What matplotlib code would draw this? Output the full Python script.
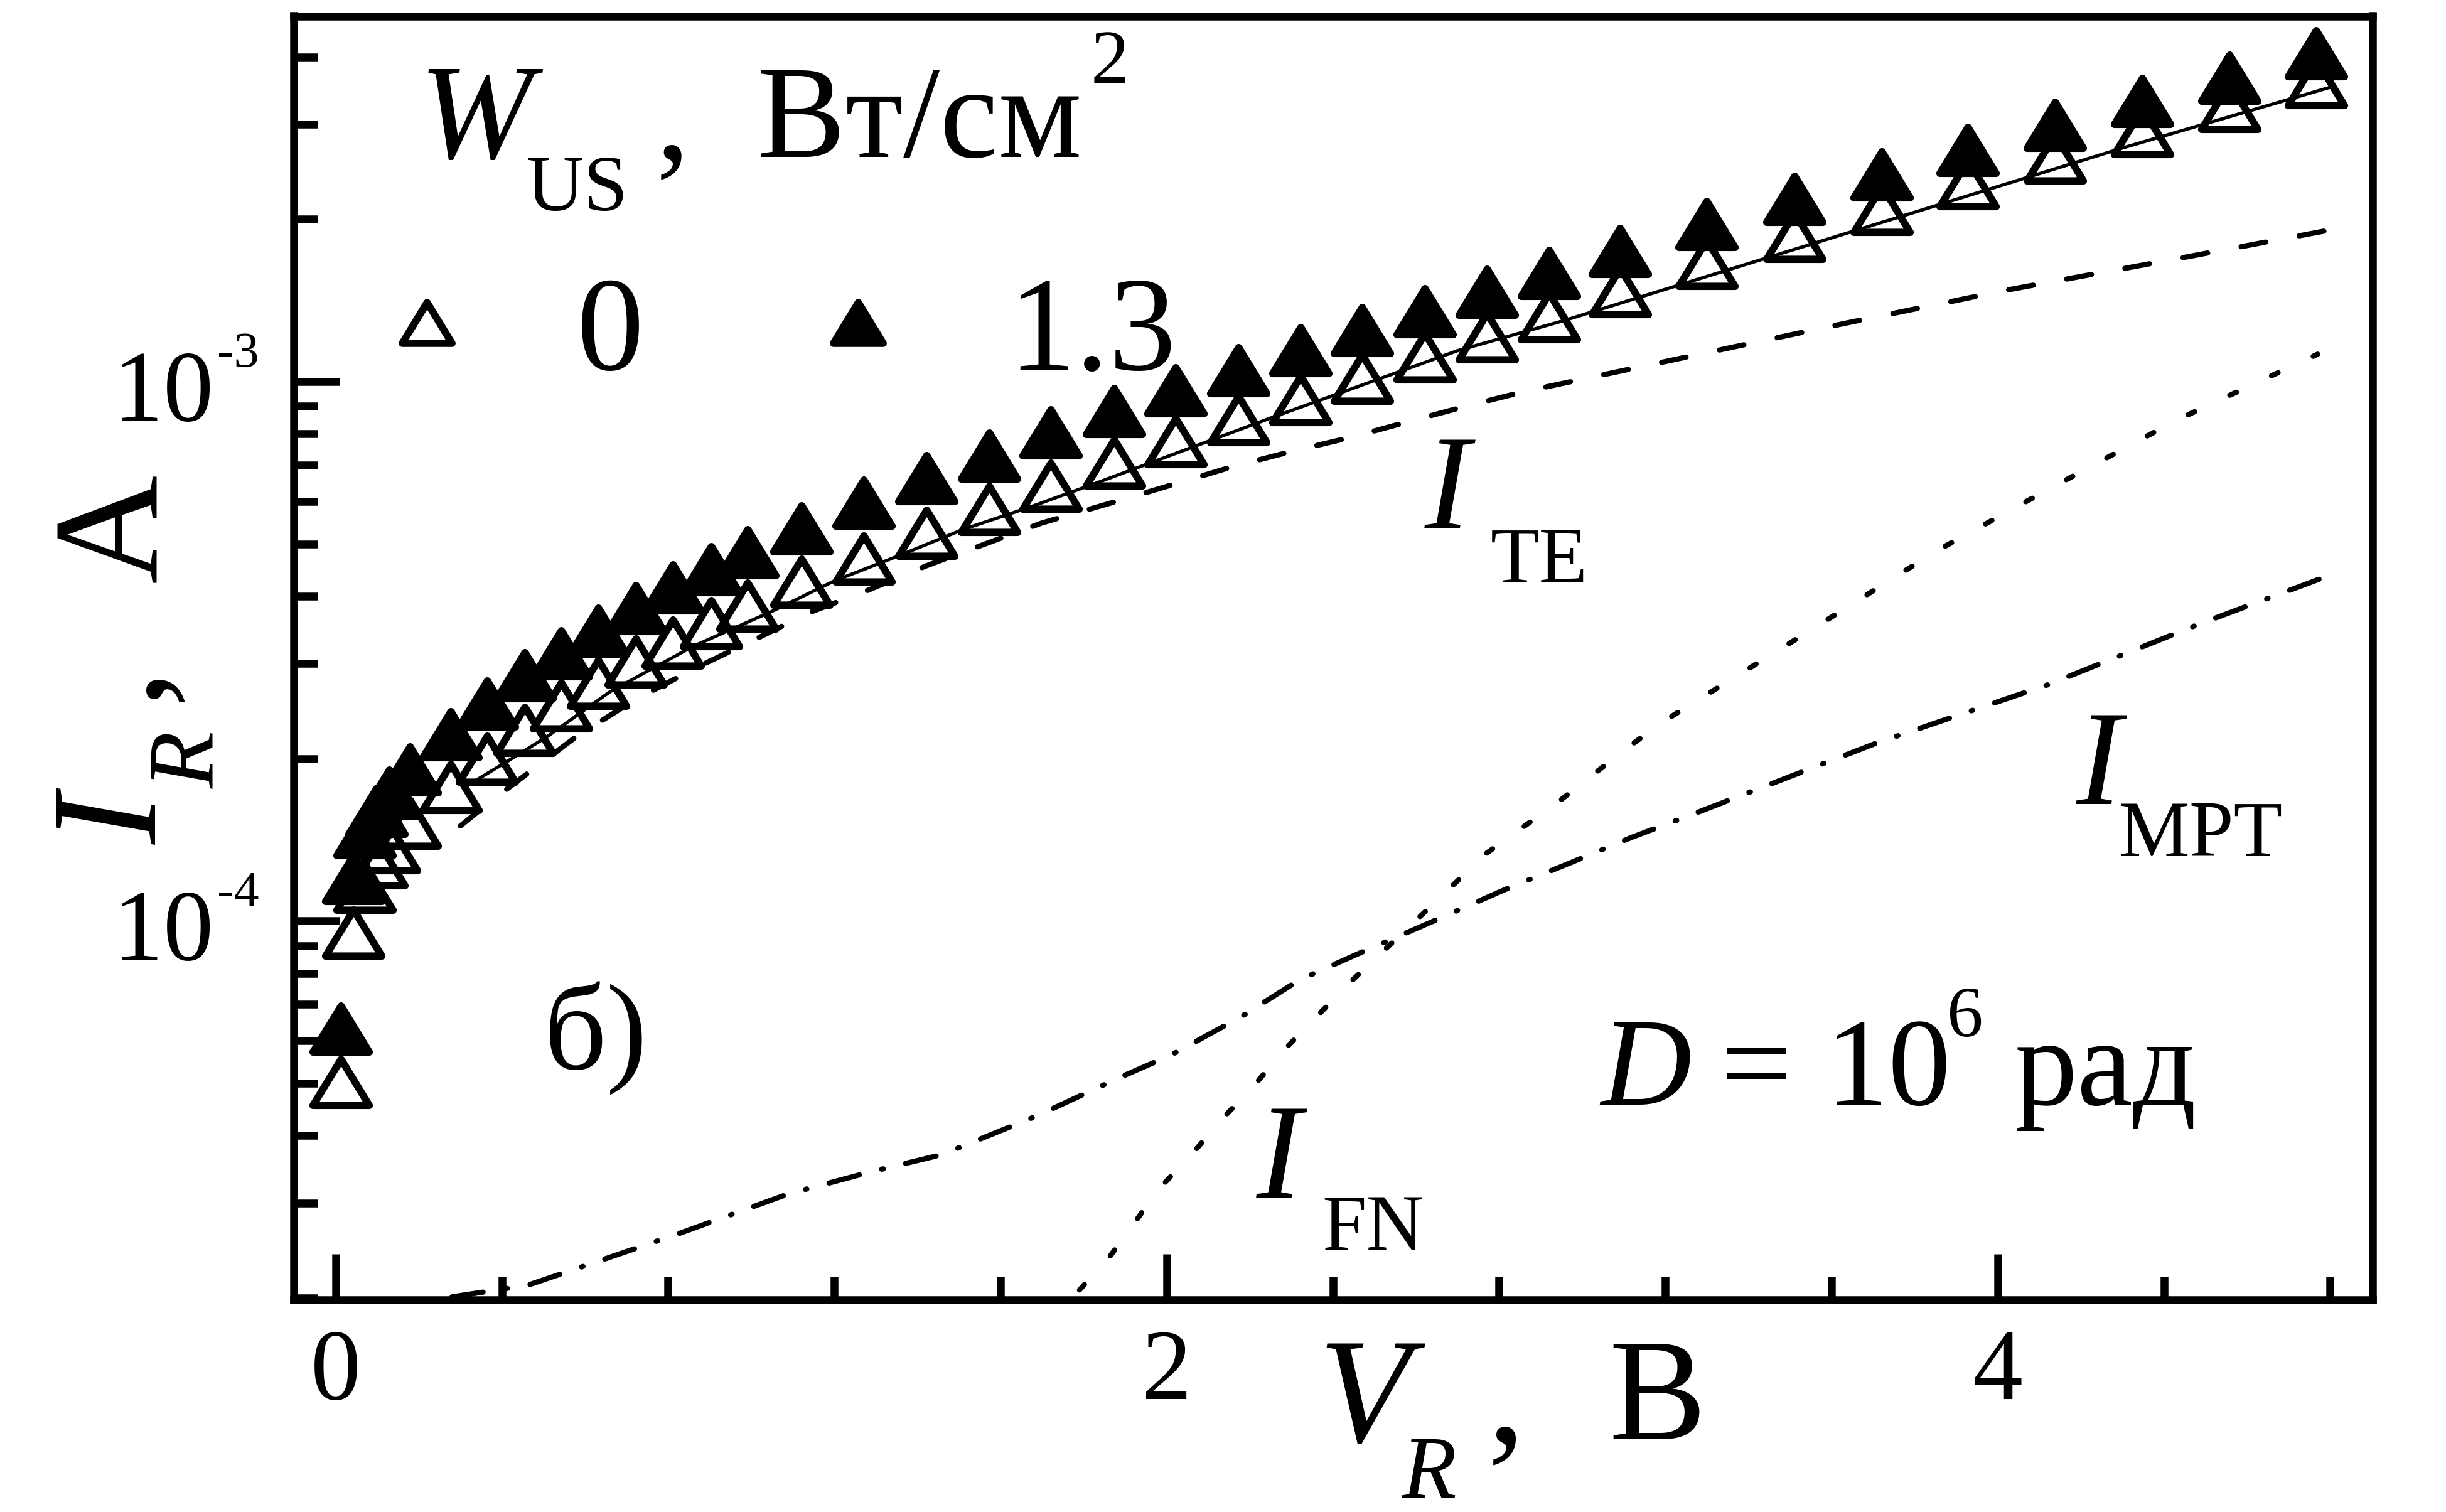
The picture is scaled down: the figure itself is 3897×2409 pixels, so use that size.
import matplotlib
matplotlib.use('Agg')
import matplotlib.pyplot as plt
from matplotlib.markers import MarkerStyle
from matplotlib.lines import Line2D
from matplotlib.path import Path
from matplotlib import transforms
from matplotlib.ticker import FixedLocator, NullFormatter, LogLocator

# ---------------- data ----------------
V_R = [0.013, 0.042, 0.070, 0.099, 0.128, 0.179, 0.276, 0.364, 0.455, 0.542, 0.632,
       0.722, 0.812, 0.903, 0.991, 1.121, 1.271, 1.421, 1.572, 1.721,
       1.873, 2.022, 2.172, 2.322, 2.470, 2.621, 2.770, 2.920,
       3.091, 3.299, 3.511, 3.721, 3.927, 4.137, 4.347, 4.557, 4.766]
I_W0 = [5.03e-5, 9.51e-5, 1.156e-4, 1.285e-4, 1.37e-4, 1.52e-4, 1.77e-4, 2.00e-4, 2.26e-4, 2.51e-4, 2.76e-4,
        3.03e-4, 3.28e-4, 3.56e-4, 3.84e-4, 4.25e-4, 4.70e-4, 5.24e-4, 5.81e-4, 6.40e-4,
        7.07e-4, 7.75e-4, 8.51e-4, 9.28e-4, 1.015e-3, 1.112e-3, 1.211e-3, 1.322e-3,
        1.47e-3, 1.66e-3, 1.86e-3, 2.09e-3, 2.33e-3, 2.60e-3, 2.91e-3, 3.24e-3, 3.59e-3]
I_W13 = [6.31e-5, 1.20e-4, 1.46e-4, 1.60e-4, 1.73e-4, 1.91e-4, 2.22e-4, 2.53e-4, 2.85e-4, 3.13e-4, 3.45e-4,
         3.80e-4, 4.15e-4, 4.49e-4, 4.82e-4, 5.34e-4, 5.96e-4, 6.61e-4, 7.29e-4, 8.05e-4,
         8.81e-4, 9.62e-4, 1.049e-3, 1.143e-3, 1.245e-3, 1.35e-3, 1.466e-3, 1.59e-3,
         1.745e-3, 1.96e-3, 2.18e-3, 2.42e-3, 2.69e-3, 2.99e-3, 3.31e-3, 3.66e-3, 4.06e-3]

FIT_V = [0.31, 0.41, 0.51, 0.66, 0.86, 1.05, 1.20, 1.36, 1.51, 1.67, 1.82, 2.25, 2.70, 2.96, 3.46, 4.30, 4.81]
FIT_I = [1.77e-4, 1.97e-4, 2.20e-4, 2.66e-4, 3.23e-4, 3.75e-4, 4.27e-4, 4.77e-4, 5.32e-4, 5.85e-4,
         6.44e-4, 8.56e-4, 1.141e-3, 1.30e-3, 1.71e-3, 2.71e-3, 3.53e-3]

TE_V = [0.30, 0.37, 0.58, 0.72, 0.88, 1.00, 1.14, 1.28, 1.42, 1.56, 1.70, 1.88, 2.02, 2.16,
        2.30, 2.44, 2.58, 2.72, 2.86, 3.17, 3.60, 4.02, 4.44, 4.80]
TE_I = [1.50e-4, 1.66e-4, 2.20e-4, 2.57e-4, 2.98e-4, 3.30e-4, 3.73e-4, 4.10e-4, 4.55e-4, 4.99e-4,
        5.47e-4, 6.00e-4, 6.46e-4, 6.96e-4, 7.42e-4, 7.87e-4, 8.42e-4, 9.00e-4, 9.58e-4,
        1.077e-3, 1.267e-3, 1.477e-3, 1.694e-3, 1.91e-3]

FN_V = [1.79, 1.86, 1.92, 1.98, 2.06, 2.13, 2.21, 2.28, 2.44, 2.61, 2.77, 2.94, 3.10, 3.19,
        3.56, 3.85, 4.10, 4.43, 4.77]
FN_I = [2.07e-5, 2.37e-5, 2.74e-5, 3.18e-5, 3.69e-5, 4.27e-5, 4.95e-5, 5.74e-5, 7.68e-5, 1.02e-4,
        1.336e-4, 1.657e-4, 2.07e-4, 2.33e-4, 3.50e-4, 4.84e-4, 6.18e-4, 8.48e-4, 1.124e-3]

MPT_V = [0.28, 0.46, 0.56, 0.83, 1.09, 1.29, 1.46, 1.69, 1.89, 2.01, 2.18, 2.32, 2.46, 2.64,
         2.81, 2.98, 3.12, 3.25, 3.71, 4.12, 4.48, 4.78]
MPT_I = [2.01e-5, 2.11e-5, 2.24e-5, 2.64e-5, 3.12e-5, 3.43e-5, 3.69e-5, 4.36e-5, 5.14e-5, 5.64e-5,
         6.65e-5, 7.78e-5, 8.69e-5, 9.98e-5, 1.14e-4, 1.29e-4, 1.43e-4, 1.56e-4, 2.14e-4, 2.74e-4,
         3.54e-4, 4.32e-4]

LEGEND_LABELS = ['0', '1.3']
X_MAJOR = [0, 2, 4]
X_MINOR = [0.4, 0.8, 1.2, 1.6, 2.4, 2.8, 3.2, 3.6, 4.4, 4.8]
Y_MAJOR = [1e-4, 1e-3]
Y_MAJOR_EXP = ['-4', '-3']

# ---------------- figure ----------------
W, H, DPI = 3897, 2409, 300
PX = 72.0 / DPI
FONT = 'Liberation Serif'
plt.rcParams['font.family'] = [FONT, 'DejaVu Serif']

fig = plt.figure(figsize=(W / DPI, H / DPI), dpi=DPI)
L, R, T, B = 468, 3780, 25.5, 2071
ax = fig.add_axes([L / W, 1 - B / H, (R - L) / W, (B - T) / H])

tri_path = Path([(-1, -0.82), (1, -0.82), (0, 0.82), (-1, -0.82)],
                [Path.MOVETO, Path.LINETO, Path.LINETO, Path.CLOSEPOLY])
tri = MarkerStyle(tri_path, joinstyle='round')

ax.plot(V_R, I_W13, linestyle='none', marker=tri, markersize=21.5, markerfacecolor='black',
        markeredgecolor='black', markeredgewidth=2.8, zorder=3)
ax.plot(V_R, I_W0, linestyle='none', marker=tri, markersize=21.5, markerfacecolor='none',
        markeredgecolor='black', markeredgewidth=2.8, zorder=4)

ax.plot(FIT_V, FIT_I, color='black', lw=1.25, zorder=5)
ax.plot(TE_V, TE_I, color='black', lw=2.0, linestyle=(0, (4.8, 6.5)), dash_capstyle='round', zorder=5)
ax.plot(FN_V, FN_I, color='black', lw=2.0, linestyle=(0, (1.4, 7.4)), dash_capstyle='round', zorder=5)
ax.plot(MPT_V, MPT_I, color='black', lw=2.0, linestyle=(0, (6.0, 4.4, 0.3, 4.4)),
        dash_capstyle='round', zorder=5)

ax.set_yscale('log')
ax.set_xlim(-0.101, 4.902)
ax.set_ylim(10 ** -4.7024, 10 ** -2.3223)

for sp in ax.spines.values():
    sp.set_linewidth(3.0)

ax.xaxis.set_major_locator(FixedLocator(X_MAJOR))
ax.xaxis.set_minor_locator(FixedLocator(X_MINOR))
ax.set_xticklabels([str(v) for v in X_MAJOR], fontsize=38.4, family=FONT)
ax.yaxis.set_major_locator(FixedLocator(Y_MAJOR))
ax.yaxis.set_minor_locator(LogLocator(base=10, subs=[2, 3, 4, 5, 6, 7, 8, 9], numticks=20))
ax.yaxis.set_major_formatter(NullFormatter())
ax.yaxis.set_minor_formatter(NullFormatter())
ax.tick_params(which='both', direction='in', top=False, right=False, width=3.0)
ax.tick_params(which='major', length=17.5)
ax.tick_params(which='minor', length=9)
ax.tick_params(axis='x', which='major', pad=11)

# y tick labels (10 with superscript exponent)
t_base = transforms.offset_copy(ax.get_yaxis_transform(), fig=fig, x=-128, y=-62, units='dots')
t_exp = transforms.offset_copy(ax.get_yaxis_transform(), fig=fig, x=-122, y=23, units='dots')
for yv, ex in zip(Y_MAJOR, Y_MAJOR_EXP):
    ax.text(0, yv, '10', transform=t_base, ha='right', va='baseline', fontsize=38.4, family=FONT)
    ax.text(0, yv, ex, transform=t_exp, ha='left', va='baseline', fontsize=19.2, family=FONT)


def ftext(x, y, s, size_px, italic=False, rot=0):
    fig.text(x / W, 1 - y / H, s, fontsize=size_px * PX, family=FONT,
             style='italic' if italic else 'normal', rotation=rot,
             rotation_mode='anchor', ha='left', va='baseline')


BIG, SUB = 217, 127
# legend title
ftext(668, 252, 'W', BIG, italic=True)
ftext(838, 335, 'US', SUB)
ftext(1045, 252, ',', BIG)
ftext(1207, 250, 'Вт/см', 210)
ftext(1738, 132, '2', 123)

# legend entries
fs_leg = 214 * PX
h_open = Line2D([], [], linestyle='none', marker=tri, markersize=19, markerfacecolor='none',
                markeredgecolor='black', markeredgewidth=2.8)
h_fill = Line2D([], [], linestyle='none', marker=tri, markersize=19, markerfacecolor='black',
                markeredgecolor='black', markeredgewidth=2.8)
leg = ax.legend([h_open, h_fill], LEGEND_LABELS, ncol=2, frameon=False, loc='upper left',
                bbox_to_anchor=(573 / W, 1 - 439 / H), bbox_transform=fig.transFigure,
                borderpad=0, borderaxespad=0, handlelength=1.0, handletextpad=0.618,
                columnspacing=1.092, prop={'family': FONT, 'size': fs_leg}, numpoints=1)

# panel label and curve labels
ftext(867, 1703, 'б)', 196)
ftext(2270, 842, 'I', BIG, italic=True)
ftext(2375, 928, 'TE', SUB)
ftext(3308, 1281, 'I', BIG, italic=True)
ftext(3375, 1364, 'MPT', SUB)
ftext(2002, 1908, 'I', BIG, italic=True)
ftext(2106, 1992, 'FN', SUB)
ftext(2550, 1760, 'D', 200, italic=True)
ftext(2742, 1760, '=', 200)
ftext(2908, 1760, '10', 200)
ftext(3102, 1651, '6', 115)
ftext(3210, 1760, 'рад', 200)

# axis labels
ftext(249, 1345, 'I', 240, italic=True, rot=90)
ftext(340, 1256, 'R', 148, italic=True, rot=90)
ftext(249, 1118, ',', 240, rot=90)
ftext(249, 928, 'A', 240, rot=90)

ftext(2100, 2297, 'V', 240, italic=True)
ftext(2234, 2386, 'R', 142, italic=True)
ftext(2370, 2297, ',', 240)
ftext(2563, 2293, 'В', 232)

fig.savefig('out.png', dpi=DPI)
